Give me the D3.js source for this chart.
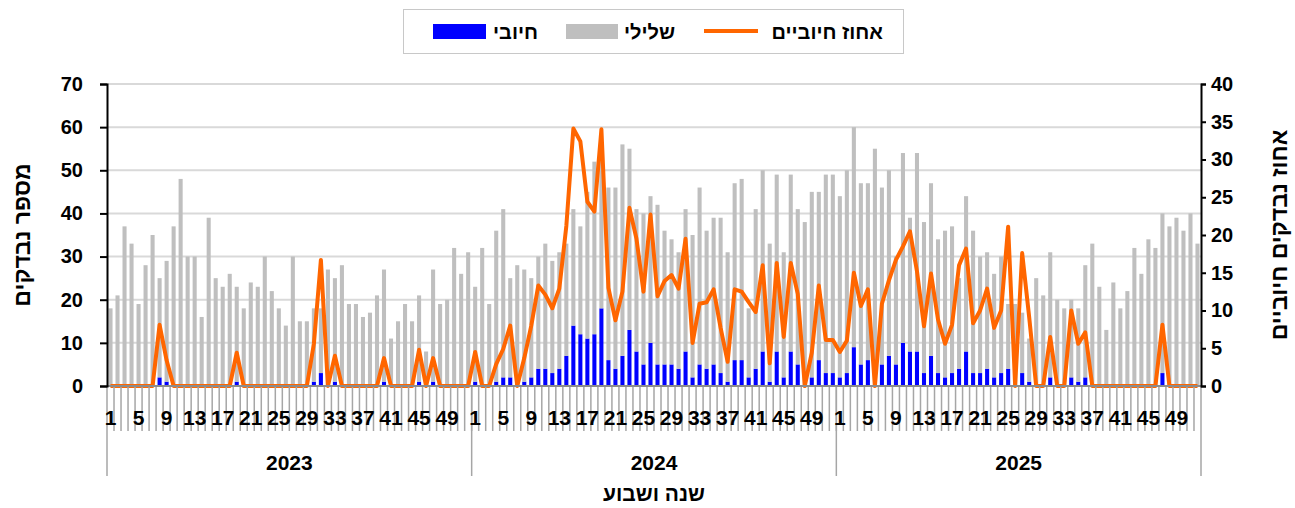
<!DOCTYPE html>
<html>
<head>
<meta charset="utf-8">
<script src="https://cdn.jsdelivr.net/npm/d3@7"></script>
<style>
  body { margin: 0; background: #fff; }
  text { font-family: "Liberation Sans", Arial, sans-serif; font-weight: bold; fill: #000; }
</style>
</head>
<body>
<svg id="chart"></svg>
<script>
// tested per week (positive + negative)
const tested2023 = [18,21,37,33,19,28,35,25,29,37,48,30,30,16,39,25,23,26,23,18,24,23,30,22,18,14,
                    30,15,15,18,18,27,25,28,19,19,16,17,21,27,11,15,19,15,21,8,27,19,20,32,26,31];
const tested2024 = [23,32,19,36,41,25,28,27,25,30,33,29,31,33,41,37,45,52,53,46,46,56,55,41,40,44,
                    42,36,34,31,41,35,46,36,39,39,31,47,48,18,41,50,33,49,31,49,41,38,45,45,49,49];
const tested2025 = [44,50,60,47,47,55,46,50,30,54,39,54,38,47,34,36,37,25,44,36,30,31,26,30,19,19,
                    17,11,25,21,31,20,18,20,18,28,33,23,13,24,18,22,32,26,34,32,40,37,39,36,40,33];

// positives per week
const positive2023 = [0,0,0,0,0,0,0,2,1,0,0,0,0,0,0,0,0,0,1,0,0,0,0,0,0,0,
                      0,0,0,1,3,0,1,0,0,0,0,0,0,1,0,0,0,0,1,0,1,0,0,0,0,0];
const positive2024 = [1,0,0,1,2,2,0,1,2,4,4,3,4,7,14,12,11,12,18,6,4,7,13,8,5,10,
                      5,5,5,4,8,2,5,4,5,3,1,6,6,2,4,8,1,8,2,8,5,0,2,6,3,3];
const positive2025 = [2,3,9,5,6,0,5,7,5,10,8,8,3,7,3,2,3,4,8,3,3,4,2,3,4,0,
                      3,1,0,0,2,0,0,2,1,2,0,0,0,0,0,0,0,0,0,0,3,0,0,0,0,0];

// percent positive (orange line, right axis)
const pct2023 = [0,0,0,0,0,0,0,8.1,3.4,0,0,0,0,0,0,0,0,0,4.4,0,0,0,0,0,0,0,
                 0,0,0,5.6,16.7,0,4.0,0,0,0,0,0,0,3.7,0,0,0,0,4.8,0,3.7,0,0,0,0,0];
const pct2024 = [4.5,0,0,2.9,4.9,8.0,0,3.7,8.0,13.3,12.1,10.3,12.9,21.2,34.1,32.4,24.4,23.1,34.0,13.0,8.7,12.5,23.6,19.5,12.5,22.7,
                 11.9,13.9,14.7,12.9,19.5,5.7,10.9,11.1,12.8,7.7,3.2,12.8,12.5,11.1,9.8,16.0,3.0,16.3,6.5,16.3,12.2,0,4.4,13.3,6.1,6.1];
const pct2025 = [4.5,6.0,15.0,10.6,12.8,0,10.9,14.0,16.7,18.5,20.5,15.2,7.9,14.9,8.8,5.6,8.1,16.0,18.2,8.3,10.0,12.9,7.7,10.0,21.1,0,
                 17.6,9.1,0,0,6.5,0,0,10.0,5.6,7.1,0,0,0,0,0,0,0,0,0,0,8.1,0,0,0,0,0];

const years = ["2023", "2024", "2025"];
const weekTicks = [1,5,9,13,17,21,25,29,33,37,41,45,49];
const leftTicks = [0,10,20,30,40,50,60,70];
const rightTicks = [0,5,10,15,20,25,30,35,40];

const W = 1295, H = 508;
const margin = { top: 84, right: 94, bottom: 122, left: 107 };
const plotW = W - margin.left - margin.right;
const plotH = H - margin.top - margin.bottom;

const testedAll = [tested2023, tested2024, tested2025];
const posAll = [positive2023, positive2024, positive2025];
const pctAll = [pct2023, pct2024, pct2025];

const data = [];
years.forEach((yr, k) => {
  testedAll[k].forEach((t, i) => {
    data.push({
      key: yr + "-" + (i + 1), year: yr, week: i + 1,
      positive: posAll[k][i], negative: t - posAll[k][i], pct: pctAll[k][i]
    });
  });
});

const svg = d3.select("#chart").attr("width", W).attr("height", H);
const g = svg.append("g").attr("transform", `translate(${margin.left},${margin.top})`);

const x = d3.scaleBand().domain(data.map(d => d.key)).range([0, plotW]).paddingInner(0.42).paddingOuter(0.21);
const yL = d3.scaleLinear().domain([0, 70]).range([plotH, 0]);
const yR = d3.scaleLinear().domain([0, 40]).range([plotH, 0]);
const step = x.step();

// gridlines
g.append("g").selectAll("line").data(leftTicks.slice(1)).enter().append("line")
  .attr("x1", 0).attr("x2", plotW)
  .attr("y1", d => yL(d)).attr("y2", d => yL(d))
  .attr("stroke", "#d9d9d9").attr("stroke-width", 2);

// stacked bars
const stack = d3.stack().keys(["positive", "negative"])(data);
const colors = { positive: "#0000ff", negative: "#bfbfbf" };
g.append("g").selectAll("g").data(stack).enter().append("g")
  .attr("fill", s => colors[s.key])
  .selectAll("rect").data(s => s).enter().append("rect")
  .attr("x", d => x(d.data.key))
  .attr("width", x.bandwidth())
  .attr("y", d => yL(d[1]))
  .attr("height", d => yL(d[0]) - yL(d[1]));

// percent line
const line = d3.line()
  .x(d => x(d.key) + x.bandwidth() / 2)
  .y(d => yR(d.pct));
g.append("path").datum(data)
  .attr("fill", "none").attr("stroke", "#ff6600").attr("stroke-width", 4)
  .attr("stroke-linejoin", "round").attr("d", line);

// category axis: ticks between every week
const xa = g.append("g").attr("transform", `translate(0,${plotH})`);
xa.selectAll("line.tk").data(d3.range(1, data.length)).enter().append("line")
  .attr("class", "tk")
  .attr("x1", i => i * step).attr("x2", i => i * step)
  .attr("y1", 0).attr("y2", 45)
  .attr("stroke", "#a6a6a6").attr("stroke-width", 1.5);
// year separators
xa.selectAll("line.yr").data(d3.range(0, years.length + 1)).enter().append("line")
  .attr("class", "yr")
  .attr("x1", k => k * 52 * step).attr("x2", k => k * 52 * step)
  .attr("y1", 0).attr("y2", 90)
  .attr("stroke", "#a6a6a6").attr("stroke-width", 1.5);
xa.append("line").attr("x1", 0).attr("x2", plotW).attr("y1", 0).attr("y2", 0)
  .attr("stroke", "#8c8c8c").attr("stroke-width", 2);

// week labels
xa.selectAll("text.wk").data(data.filter(d => weekTicks.includes(d.week))).enter().append("text")
  .attr("class", "wk")
  .attr("x", d => x(d.key) + x.bandwidth() / 2)
  .attr("y", 39)
  .attr("text-anchor", "middle").style("font-size", "21px")
  .text(d => d.week);
// year labels
xa.selectAll("text.yl").data(years).enter().append("text")
  .attr("class", "yl")
  .attr("x", (d, k) => (k + 0.5) * 52 * step)
  .attr("y", 84)
  .attr("text-anchor", "middle").style("font-size", "21px")
  .text(d => d);

// left axis
const axL = g.append("g").call(d3.axisLeft(yL).tickValues(leftTicks).tickSize(7).tickPadding(17));
axL.select(".domain").attr("stroke", "#000").attr("stroke-width", 2);
axL.selectAll(".tick line").attr("stroke", "#000").attr("stroke-width", 2);
axL.selectAll("text").style("font-size", "20px").style("font-family", null);

// right axis
const axR = g.append("g").attr("transform", `translate(${plotW},0)`)
  .call(d3.axisRight(yR).tickValues(rightTicks).tickSize(5).tickPadding(5));
axR.select(".domain").attr("stroke", "#000").attr("stroke-width", 2);
axR.selectAll(".tick line").attr("stroke", "#000").attr("stroke-width", 2);
axR.selectAll("text").style("font-size", "20px").style("font-family", null);

// axis titles
svg.append("text").attr("transform", `translate(30,${margin.top + plotH / 2}) rotate(-90)`)
  .attr("text-anchor", "middle").style("font-size", "23px").text("מספר נבדקים");
svg.append("text").attr("transform", `translate(1287,${margin.top + plotH / 2}) rotate(-90)`)
  .attr("text-anchor", "middle").style("font-size", "23px").text("אחוז נבדקים חיוביים");
svg.append("text").attr("x", margin.left + plotW / 2).attr("y", 501)
  .attr("text-anchor", "middle").style("font-size", "21px").text("שנה ושבוע");

// legend
const lg = svg.append("g");
lg.append("rect").attr("x", 403.5).attr("y", 9.5).attr("width", 500).attr("height", 44)
  .attr("fill", "#fff").attr("stroke", "#c8c8c8").attr("stroke-width", 1);
lg.append("line").attr("x1", 704).attr("x2", 758).attr("y1", 31).attr("y2", 31)
  .attr("stroke", "#ff6600").attr("stroke-width", 4);
lg.append("text").attr("x", 883).attr("y", 39).attr("text-anchor", "end")
  .style("font-size", "20px").style("direction", "ltr").text("אחוז חיוביים");
lg.append("rect").attr("x", 566).attr("y", 24).attr("width", 52).attr("height", 15).attr("fill", "#bfbfbf");
lg.append("text").attr("x", 675).attr("y", 39).attr("text-anchor", "end")
  .style("font-size", "20px").style("direction", "ltr").text("שלילי");
lg.append("rect").attr("x", 433).attr("y", 24).attr("width", 53).attr("height", 15).attr("fill", "#0000ff");
lg.append("text").attr("x", 538).attr("y", 39).attr("text-anchor", "end")
  .style("font-size", "20px").style("direction", "ltr").text("חיובי");
</script>
</body>
</html>
